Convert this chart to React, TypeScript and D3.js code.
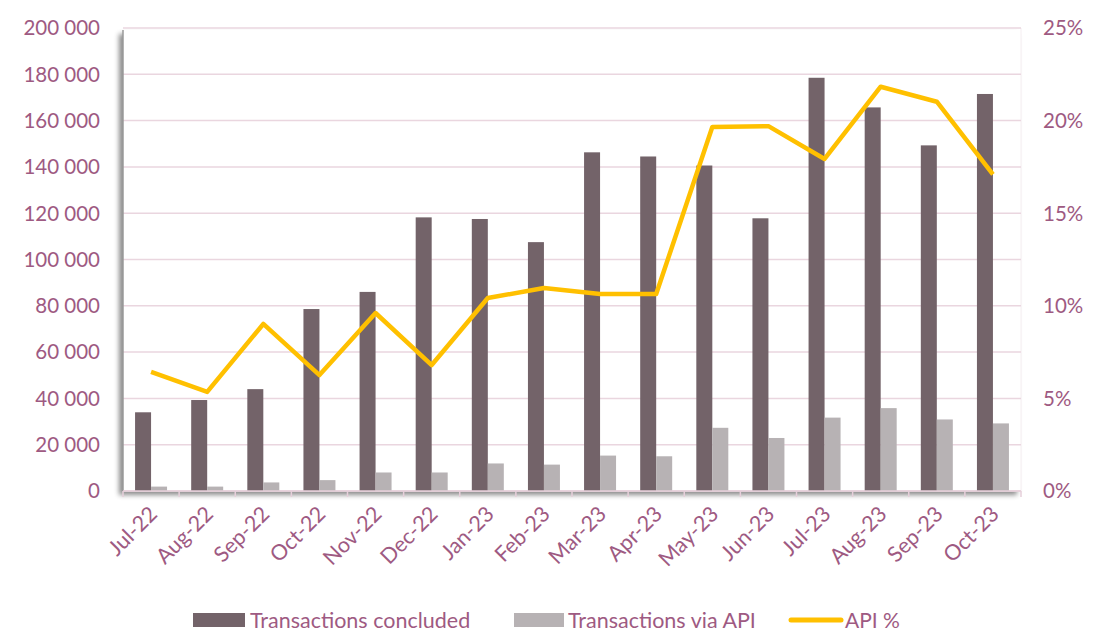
import React from "react";
import * as d3 from "d3";

const months = ["Jul-22","Aug-22","Sep-22","Oct-22","Nov-22","Dec-22","Jan-23","Feb-23","Mar-23","Apr-23","May-23","Jun-23","Jul-23","Aug-23","Sep-23","Oct-23"];
const concluded = [34000,39300,44000,78600,86000,118200,117500,107500,146300,144500,140600,117800,178500,165700,149300,171500];
const viaApi = [1900,1900,3700,4700,8000,8000,11900,11400,15300,15000,27300,22900,31700,35800,30900,29200];
const apiPct = [6.43,5.35,9.02,6.26,9.61,6.8,10.42,10.96,10.64,10.64,19.65,19.7,17.93,21.83,21.02,17.1];
const leftTicks = [0,20000,40000,60000,80000,100000,120000,140000,160000,180000,200000];
const rightTicks = [0,5,10,15,20,25];

const W = 1101, H = 641;
const X0 = 123, X1 = 1021, Y0 = 28, Y1 = 491;
const TEXT = "#9E5A82";
const FONT = "Lato, 'Open Sans', sans-serif";

export default function App() {
  const x = d3.scaleBand<string>().domain(months).range([X0, X1]).padding(0);
  const yL = d3.scaleLinear().domain([0, 200000]).range([Y1, Y0]);
  const yR = d3.scaleLinear().domain([0, 25]).range([Y1, Y0]);
  const bw = x.bandwidth();
  const barW = bw * 0.285;
  const fmt = (v: number) => d3.format(",")(v).replace(/,/g, " ");
  const line = d3.line<number>()
    .x((_, i) => (x(months[i]) as number) + bw / 2)
    .y((d) => yR(d));

  return (
    <svg width={W} height={H} style={{ position: "absolute", left: 0, top: 0, background: "#fff" }} fontFamily={FONT}>
      <defs>
        <filter id="sh" x="-5%" y="-5%" width="110%" height="115%">
          <feDropShadow dx={-4} dy={4} stdDeviation={2.5} floodColor="#000" floodOpacity={0.45} />
        </filter>
      </defs>
      <rect x={X0} y={Y0 + 2} width={X1 - X0} height={Y1 - Y0 - 2} fill="#fff" filter="url(#sh)" />
      <line x1={X1} x2={X1} y1={Y0} y2={Y1} stroke="#F5EEF1" strokeWidth={1} />
      {leftTicks.map((t) => (
        <line key={"g" + t} x1={X0} x2={X1} y1={yL(t)} y2={yL(t)} stroke="#EAD6DF" strokeWidth={1.5} />
      ))}
      <line x1={X0} x2={X0} y1={Y0 + 2} y2={Y1} stroke="#9a9a9a" strokeWidth={1.5} />
      {months.map((m, i) => (
        <g key={m}>
          <rect x={(x(m) as number) + bw / 2 - barW} y={yL(concluded[i])} width={barW} height={Y1 - yL(concluded[i])} fill="#736369" />
          <rect x={(x(m) as number) + bw / 2} y={yL(viaApi[i])} width={barW} height={Y1 - yL(viaApi[i])} fill="#B7B2B4" />
        </g>
      ))}
      <line x1={X0} x2={X1} y1={Y1} y2={Y1} stroke="#E6CFDA" strokeWidth={1.5} />
      {months.concat(["end"]).map((m, i) => {
        const xx = X0 + i * bw;
        return <line key={"t" + i} x1={xx} x2={xx} y1={Y1} y2={Y1 + 6} stroke="#E6CFDA" strokeWidth={1.5} />;
      })}
      <path d={line(apiPct) || ""} fill="none" stroke="#FFC000" strokeWidth={4.5} strokeLinejoin="round" />
      {leftTicks.map((t) => (
        <text key={"l" + t} x={100} y={yL(t)} dy="0.36em" textAnchor="end" fontSize={20.5} fill={TEXT}>{fmt(t)}</text>
      ))}
      {rightTicks.map((t) => (
        <text key={"r" + t} x={1043} y={yR(t)} dy="0.36em" textAnchor="start" fontSize={20.5} fill={TEXT}>{t + "%"}</text>
      ))}
      {months.map((m) => {
        const cx = (x(m) as number) + bw / 2 + 2;
        const cy = 510;
        return (
          <text key={"x" + m} x={cx} y={cy} textAnchor="end" fontSize={21.5} fill={TEXT} transform={`rotate(-45 ${cx} ${cy})`} dy="0.36em">{m}</text>
        );
      })}
      <rect x={193} y={613} width={52} height={14} fill="#736369" />
      <text x={250} y={620} dy="0.36em" fontSize={21.5} fill={TEXT}>Transactions concluded</text>
      <rect x={514} y={613} width={50} height={14} fill="#B7B2B4" />
      <text x={568} y={620} dy="0.36em" fontSize={21.5} fill={TEXT}>Transactions via API</text>
      <line x1={791} x2={841} y1={620} y2={620} stroke="#FFC000" strokeWidth={5} strokeLinecap="round" />
      <text x={845} y={620} dy="0.36em" fontSize={21} fill={TEXT}>API %</text>
    </svg>
  );
}
